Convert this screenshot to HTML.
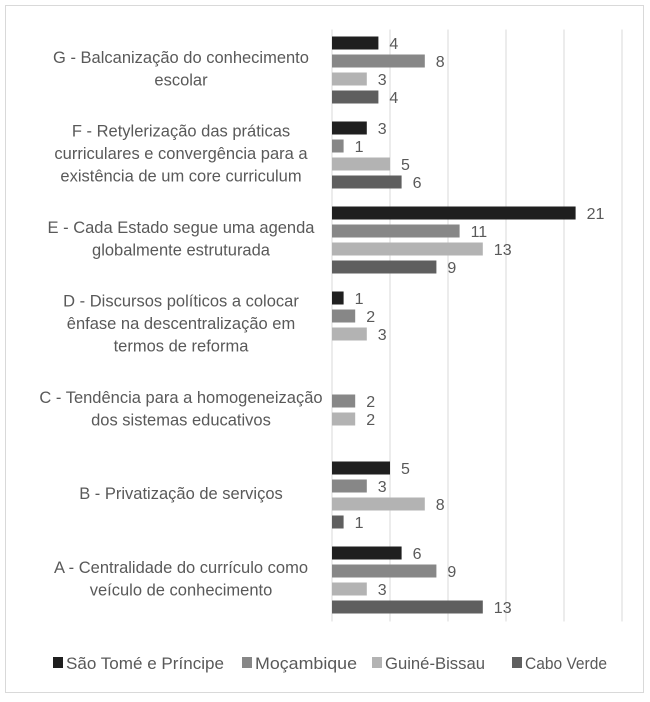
<!DOCTYPE html>
<html><head><meta charset="utf-8"><style>
body{margin:0;background:#fff}
svg text{font-family:"Liberation Sans",sans-serif;fill:#595959}
</style></head><body>
<svg width="650" height="697">
<rect x="5.5" y="5.5" width="638" height="687" fill="#fff" stroke="#d9d9d9"/>
<g id="grid"></g><g id="bars"></g><g id="labels"></g>
<g id="legend"></g>
</svg>
<script>
const categories=[["G - Balcanização do conhecimento","escolar"],["F - Retylerização das práticas","curriculares e convergência para a","existência de um core curriculum"],["E - Cada Estado segue uma agenda","globalmente estruturada"],["D - Discursos políticos a colocar","ênfase na descentralização em","termos de reforma"],["C - Tendência para a homogeneização","dos sistemas educativos"],["B - Privatização de serviços"],["A - Centralidade do currículo como","veículo de conhecimento"]];
const seriesNames=["São Tomé e Príncipe","Moçambique","Guiné-Bissau","Cabo Verde"];
const saoTome=[4,3,21,1,null,5,6];
const mocambique=[8,1,11,2,2,3,9];
const guine=[3,5,13,3,2,8,3];
const caboVerde=[4,6,9,null,null,1,13];
const ticks=[0,5,10,15,20,25];
const colors=["#1f1f1f","#878787","#b3b3b3","#5f5f5f"];
const series=[saoTome,mocambique,guine,caboVerde];
const NS="http://www.w3.org/2000/svg";
const x0=332,x1=622,plotTop=29.5,band=85,plotBottom=plotTop+band*7;
const xs=v=>x0+v/25*(x1-x0);
function mk(t,a,p){const e=document.createElementNS(NS,t);for(const k in a)e.setAttribute(k,a[k]);document.getElementById(p).appendChild(e);return e;}
ticks.forEach(t=>{const l=mk('line',{x1:xs(t),x2:xs(t),y1:plotTop,y2:plotBottom-3,stroke:'#d9d9d9'},'grid');

});
categories.forEach((c,i)=>{
 const bt=plotTop+i*band+7;
 series.forEach((s,j)=>{const v=s[i];if(v==null)return;
  const y=bt+j*18;
  const r=mk('rect',{x:x0,y:y,width:xs(v)-x0,height:13,fill:colors[j]},'bars');
  
  
  const t=mk('text',{x:xs(v)+11,y:y+12.5,'font-size':16},'labels');t.textContent=v;
  
  
 });
 const cy=plotTop+i*band+band/2-4, n=c.length, lh=22.5;
 c.forEach((line,k)=>{const t=mk('text',{x:181,y:cy-(n-1)*lh/2+k*lh+6,'font-size':16.5,'text-anchor':'middle'},'labels');t.textContent=line;
  
  });
});
const lx=[53,242,372,512];
const lw=[158,102,100,82];
seriesNames.forEach((n,j)=>{
 const r=mk('rect',{x:lx[j],y:657,width:10,height:11,fill:colors[j]},'legend');
 
 
 const t=mk('text',{x:lx[j]+13,y:669,'font-size':16.5,textLength:lw[j],lengthAdjust:'spacingAndGlyphs'},'legend');t.textContent=n;
 
 
});
</script>
</body></html>
